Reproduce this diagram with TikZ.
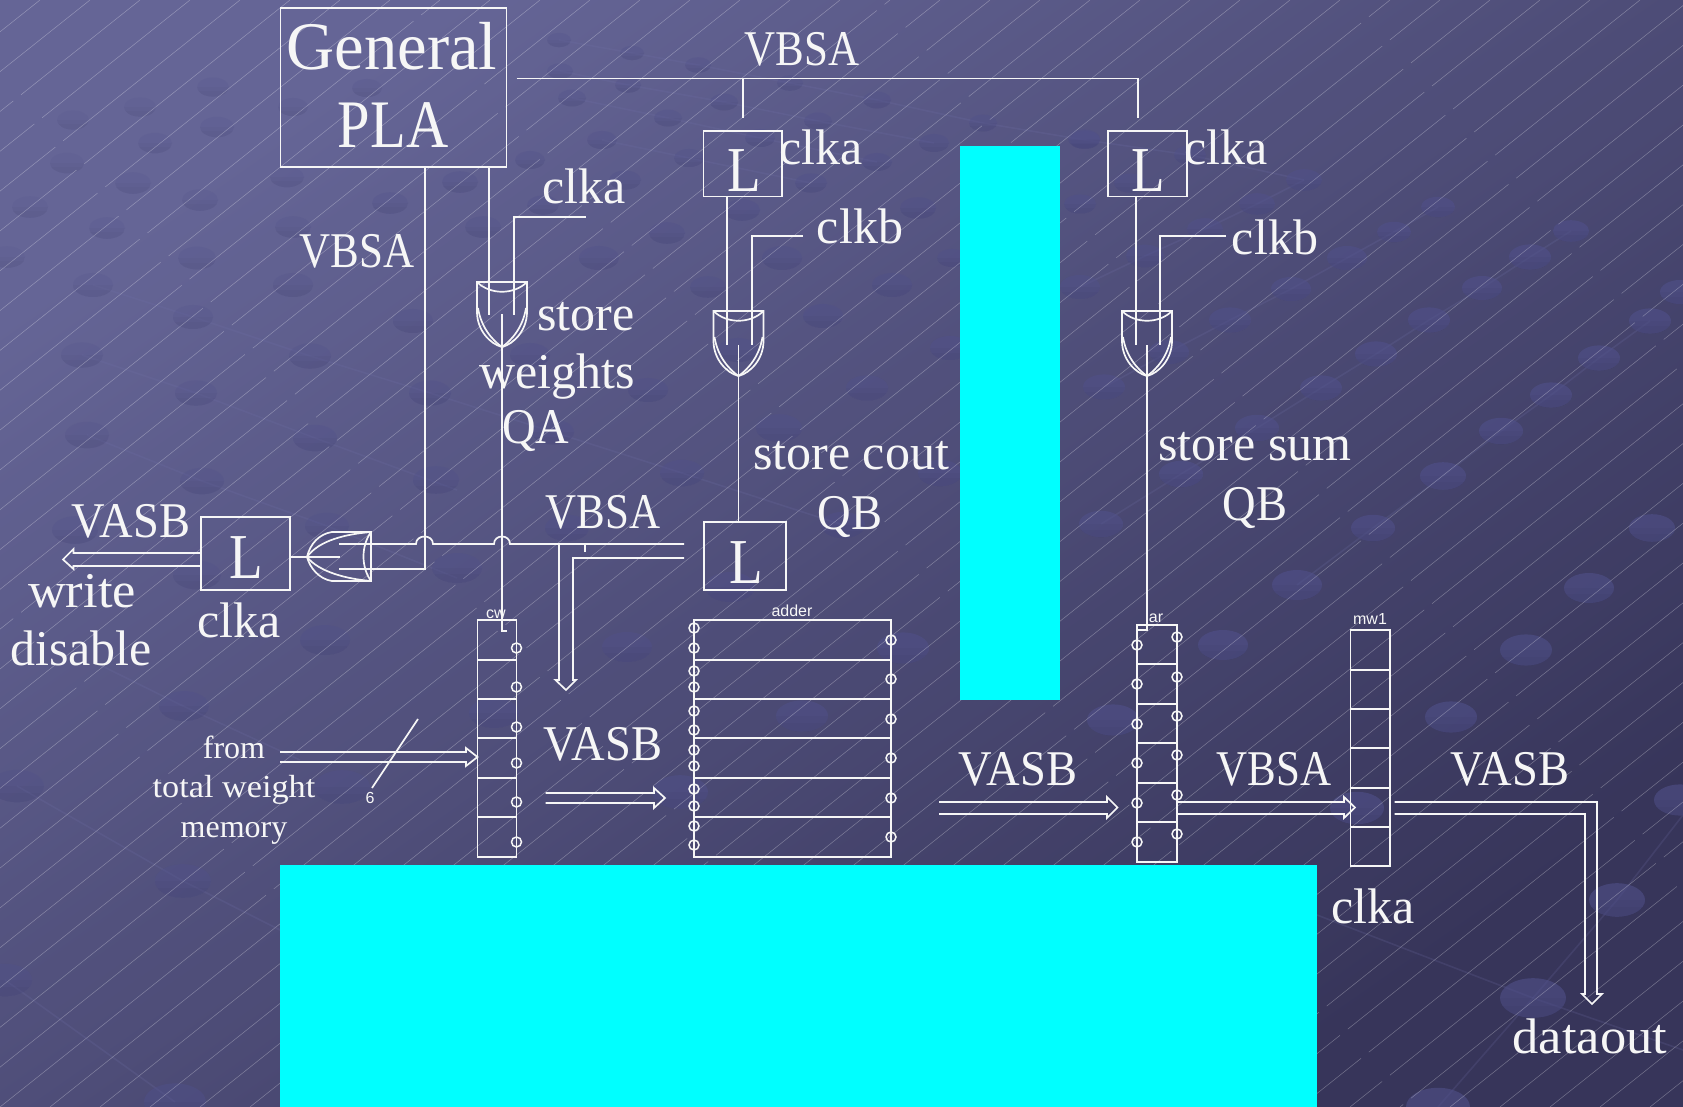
\documentclass[tikz,border=0pt]{standalone}
\usepackage{fontspec}
\usepackage{graphicx}
\setmainfont{Liberation Serif}
\newfontfamily\sansf{Liberation Sans}
\definecolor{bgA}{HTML}{656596}
\definecolor{bgB}{HTML}{37355A}
\definecolor{ink}{HTML}{F6F6F6}
\definecolor{dotc}{HTML}{50508A}
\definecolor{netc}{HTML}{7070A8}
\definecolor{cyanfill}{RGB}{0,255,255}
\newcommand{\Kp}[1]{\scalebox{.86}[1]{#1}}
\newcommand{\Kq}[1]{\scalebox{.93}[1]{#1}}
\newcommand{\Kw}[1]{\scalebox{1.05}[1]{#1}}
\newcommand{\BoxN}[5]{\pgfmathsetmacro\bw{(#4-#2)*.5}\pgfmathsetmacro\bh{(#5-#3)*.5}%
 \node[boxn,minimum width=\bw pt,minimum height=\bh pt] (#1) at ({(#2+#4)/2},{(#3+#5)/2}) {};}
\tikzset{
 wire/.style={draw=ink,line width=.85pt,line join=miter},
 boxn/.style={draw=ink,line width=.85pt,inner sep=0pt,outer sep=0pt},
 cyanbox/.style={fill=cyanfill,draw=none,inner sep=0pt,outer sep=0pt},
 tx/.style={text=ink,anchor=base,inner sep=0pt,font=\fontsize{25}{25}\selectfont},
 big/.style={text=ink,anchor=base,inner sep=0pt,font=\fontsize{34}{34}\selectfont},
 latch/.style={text=ink,anchor=base,inner sep=0pt,font=\fontsize{32}{32}\selectfont},
 small/.style={text=ink,anchor=base,inner sep=0pt,font=\fontsize{16}{16}\selectfont},
 tiny/.style={text=ink!85,anchor=base,inner sep=0pt,font=\sansf\fontsize{8}{8}\selectfont},
 pin/.style={draw=ink,line width=.75pt},
 net/.style={draw=netc,opacity=.2,line width=.8pt},
 andgate/.pic={
  \draw[wire] (-25,0) -- (25,0) -- (25,30) .. controls (25,48) and (12,62) .. (0,65)
     .. controls (-12,62) and (-25,48) .. (-25,30) -- cycle;
  \draw[wire] (-25,0) .. controls (-12,13) and (12,13) .. (25,0);
  \draw[wire] (-24,26) .. controls (-21,45) and (-10,58) .. (0,65) .. controls (10,58) and (21,45) .. (24,26);
 },
 orgate/.pic={
  \draw[wire] (64,0) -- (64,49) -- (25,49) .. controls (12,47) and (3,36) .. (0,25)
     .. controls (3,12) and (12,2) .. (25,0) -- cycle;
  \draw[wire] (0,25) .. controls (12,8) and (40,2) .. (64,0);
  \draw[wire] (0,25) .. controls (12,40) and (40,47) .. (64,49);
  \draw[wire] (64,0) .. controls (54,14) and (54,35) .. (64,49);
 },
}
\begin{document}
\begin{tikzpicture}[x=.5pt,y=-.5pt]
\useasboundingbox (0,0) rectangle (1683,1107);
\shade[top color=bgA,bottom color=bgB,shading angle=35] (0,0) rectangle (1683,1107);
\begin{scope}
\clip (0,0) rectangle (1683,1107);
% faint net
\draw[net] (1438,1107) -- (1533,998) -- (1617,900) -- (1683,815);
\draw[net] (1297,585) -- (1373,528) -- (1443,476) -- (1501,431) -- (1551,395) -- (1599,358) -- (1650,321);
\draw[net] (1101,524) -- (1181,474) -- (1257,428) -- (1321,388) -- (1376,354) -- (1429,320) -- (1482,288) -- (1530,257) -- (1571,231);
\draw[net] (1104,387) -- (1169,352) -- (1230,320) -- (1291,289) -- (1347,258) -- (1394,232) -- (1438,207);
\draw[net] (1080,287) -- (1145,256) -- (1205,229) -- (1257,204) -- (1304,180);
\draw[net] (559,40) -- (632,53) -- (698,65) -- (790,83) -- (877,100) -- (983,123) -- (1085,140) -- (1190,155) -- (1304,180);
\draw[net] (560,71) -- (628,85) -- (724,102) -- (818,121) -- (934,143);
\draw[net] (572,98) -- (668,118) -- (760,138) -- (877,162);
\draw[net] (602,140) -- (689,158) -- (811,183);
\draw[net] (82,355) -- (196,393) -- (315,438) -- (457,490);
\draw[net] (87,435) -- (202,481) -- (327,526) -- (457,578);
\draw[net] (93,285) -- (193,317) -- (310,356) -- (430,393) -- (553,432) -- (682,473) -- (843,525);
\draw[net] (100,665) -- (183,706) -- (300,760);
\draw[net] (17,786) -- (183,881) -- (280,930);
\draw[net] (5,980) -- (175,1102);
\draw[net] (1317,915) -- (1533,998) -- (1683,1050);
% dots
\foreach \x/\y/\r in {
 1084/139/16,1080/204/16,1304/180/18,1257/204/18,1205/229/18,1438/207/17,1394/232/17,1571/231/18,
 1145/256/19,1347/258/20,1530/257/21,1080/287/20,1291/289/20,1482/288/20,1680/292/20,1230/320/21,
 1429/320/21,1650/321/21,1169/352/20,1376/354/21,1599/358/21,1104/387/21,1321/388/21,1551/395/21,
 1257/428/22,1501/431/22,1181/474/22,1443/476/23,1101/524/22,1373/528/22,1652/528/23,1297/585/25,
 1589/588/25,1617/900/28,1533/998/33,1438/1107/32,
 93/285/20,293/285/20,193/317/20,413/321/20,82/355/21,310/356/21,196/393/21,430/393/21,87/435/22,
 315/438/22,202/481/22,436/480/23,75/530/23,327/526/22,457/568/25,197/575/24,567/528/22,325/640/25,
 627/647/25,184/706/25,494/713/25,17/786/27,342/787/28,680/792/28,183/881/28,903/648/26,802/716/26,
 1223/645/25,1526/650/26,1451/717/26,1113/720/26,1357/808/27,1680/800/26,5/980/27,175/1102/31,
 543/205/16,667/233/18,599/258/20,742/210/18,918/208/18,782/258/20,708/287/18,892/285/20,952/258/15,
 823/316/20,738/350/20,530/355/20,950/348/20,648/390/20,867/388/21,553/432/21,779/428/23,682/473/22,
 940/473/22,843/525/22,730/587/25,
 559/40/12,632/53/12,698/65/13,560/71/13,628/85/13,790/83/13,572/98/14,724/102/14,877/100/14,668/118/14,
 818/121/14,983/123/14,602/140/15,760/138/15,934/143/15,1085/140/15,530/160/15,689/158/15,877/162/15,
 625/180/16,811/183/16,1190/155/16,1130/183/16,
 213/87/16,140/107/16,73/120/16,217/127/17,155/143/17,67/163/17,133/183/18,30/207/18,200/200/18,107/228/18,
 7/257/18,197/258/19,293/107/15,367/88/15,460/182/18,287/177/17,390/203/18,483/227/18,293/227/18}
 {\pgfmathsetmacro\op{min(.6,.05+.42*(\x+\y)/1300)}
  \fill[dotc,opacity=\op] (\x,\y) ellipse [x radius=\r, y radius=.6*\r];
  \begin{scope}
   \clip (\x,\y) ellipse [x radius=\r, y radius=.6*\r];
   \fill[black,opacity=.02] (\x-\r,\y) rectangle (\x+\r,\y+\r);
   \fill[black,opacity=.02] (\x-\r,\y+.25*\r) rectangle (\x+\r,\y+\r);
  \end{scope}}
% thin diagonal lines
\foreach \c in {-1400,-1350,...,1700}
 \draw[white,opacity=.3,line width=.26pt,dash pattern=on 170pt off 5pt,dash phase=\c*.37 pt] (\c,1107) -- (\c+1390,0);
\end{scope}
% cyan
\node[cyanbox,minimum width=50pt,minimum height=277pt] (capA) at (1010,423) {};
\node[cyanbox,minimum width=518.5pt,minimum height=121pt] (capB) at (798.5,986) {};
% boxes
\BoxN{pla}{280.5}{8}{506.5}{167}
\BoxN{la}{703.5}{131}{782}{196.5}
\BoxN{lb}{1108}{131}{1187}{196.5}
\BoxN{lc}{201}{517}{290}{590}
\BoxN{ld}{704}{522}{786}{590}
\BoxN{cw}{477.5}{620}{516.5}{857}
\BoxN{adder}{694}{620}{891}{857}
\BoxN{ar}{1137}{625}{1177}{862}
\BoxN{mw}{1350.5}{630}{1390}{866}
\foreach \y in {660,699,738,778,817} {\draw[wire] (cw.west |- 0,\y) -- (cw.east |- 0,\y); \draw[wire] (adder.west |- 0,\y) -- (adder.east |- 0,\y);}
\foreach \y in {664,704,743,783,822} \draw[wire] (ar.west |- 0,\y) -- (ar.east |- 0,\y);
\foreach \y in {670,709,748,788,827} \draw[wire] (mw.west |- 0,\y) -- (mw.east |- 0,\y);
\foreach \y in {648,687,727,763,802,842} \draw[pin] (cw.east |- 0,\y) circle [radius=5];
\foreach \y in {628,648,671,687,711,730,750,766,789,806,826,845} \draw[pin] (adder.west |- 0,\y) circle [radius=5];
\foreach \y in {640,679,719,758,798,837} \draw[pin] (adder.east |- 0,\y) circle [radius=5];
\foreach \y in {645,684,724,763,803,842} \draw[pin] (ar.west |- 0,\y) circle [radius=5];
\foreach \y in {637,677,716,755,795,834} \draw[pin] (ar.east |- 0,\y) circle [radius=5];
% gates
\pic at (502,282) {andgate};
\pic at (738.5,311) {andgate};
\pic at (1147,311) {andgate};
\pic at (307,532) {orgate};
\coordinate (gaO) at (502,314);
\coordinate (gbO) at (738.5,345);
\coordinate (gcO) at (1147,345);
\coordinate (gorT) at (339,544);
\coordinate (gorB) at (339,569);
\coordinate (gorM) at (340,557);
% connectors
\coordinate (busS) at (516.5,78.5);
\coordinate (busE) at (1138,78.5);
\draw[wire] (busS) -- (busE) -- (1138,118);
\draw[wire] (743,78.5) -- (743,118);
\draw[wire] (pla.south -| 425,0) -- (425,569) -- (gorB);
\draw[wire] (pla.south -| 489,0) -- (489,315);
\draw[wire] (586,217) -- (514,217) -- (514,315);
\draw[wire] (gaO) -- (502,631) -- (507,631);
\draw[wire] (la.south -| 727,0) -- (727,345);
\draw[wire] (803,236) -- (752,236) -- (752,345);
\draw[wire] (gbO) -- (ld.north -| 738.5,0);
\draw[wire] (lb.south -| 1136,0) -- (1136,345);
\draw[wire] (1226,236) -- (1160,236) -- (1160,345);
\draw[wire] (gcO) -- (1147,630) -- (ar.west |- 0,630);
\draw[wire] (gorT) -- (416,544) .. controls (416,534) and (433,534) .. (433,544) -- (494,544)
   .. controls (494,534) and (510,534) .. (510,544) -- (684,544);
\draw[wire] (lc.east |- gorM) -- (gorM);
\draw[wire] (585,544) -- (585,552);
% fat arrows
\draw[wire] (684,558) -- (573,558) -- (573,680) -- (576,680) -- (566,690) -- (555.5,680) -- (559,680) -- (559,545);
\draw[wire] (lc.west |- 0,553) -- (73.5,553) -- (73.5,549) -- (63,559.5) -- (73.5,569) -- (73.5,566) -- (lc.west |- 0,566);
\draw[wire] (280,752) -- (466,752) -- (466,748) -- (cw.west |- 0,757) -- (466,766) -- (466,762) -- (280,762);
\draw[wire] (545.5,793) -- (654,793) -- (654,788) -- (665,798) -- (654,808) -- (654,803) -- (545.5,803);
\draw[wire] (939,802) -- (1107,802) -- (1107,797) -- (1117.5,807.5) -- (1107,818) -- (1107,814) -- (939,814);
\draw[wire] (ar.east |- 0,802) -- (1344,802) -- (1344,797) -- (1355,807.5) -- (1344,818) -- (1344,814) -- (ar.east |- 0,814);
\draw[wire] (1394.5,802) -- (1597,802) -- (1597,994) -- (1602,994) -- (1592,1004) -- (1582,994) -- (1585,994) -- (1585,814) -- (1394.5,814);
\draw[wire] (418,719) -- (372,788);
% text
\node[big] (tgen) at (392,70) {\scalebox{.98}[1]{General}};
\node[big] (tpla) at (393,148) {\Kp{PLA}};
\node[latch] (tla) at (744,192) {\Kp{L}};
\node[latch] (tlb) at (1148,192) {\Kp{L}};
\node[latch] (tlc) at (246,578) {\Kp{L}};
\node[latch] (tld) at (746,583) {\Kp{L}};
\node[tx] (t1) at (802,66) {\Kp{VBSA}};
\node[tx] (t2) at (821,165) {clka};
\node[tx] (t3) at (1226,165) {clka};
\node[tx] (t4) at (584,204) {clka};
\node[tx] (t5) at (860,244) {clkb};
\node[tx] (t6) at (1275,255) {clkb};
\node[tx] (t7) at (357,268) {\Kp{VBSA}};
\node[tx] (t8) at (586,331) {store};
\node[tx] (t9) at (557,389) {weights};
\node[tx] (t10) at (536,444) {\Kq{QA}};
\node[tx] (t11) at (851,470) {store cout};
\node[tx] (t12) at (850,530) {\Kq{QB}};
\node[tx] (t13) at (1255,460) {store sum};
\node[tx] (t14) at (1255,520) {\Kq{QB}};
\node[tx] (t15) at (603,529) {\Kp{VBSA}};
\node[tx] (t16) at (131,538) {\Kq{VASB}};
\node[tx] (t17) at (82,607) {\Kw{write}};
\node[tx] (t18) at (81,665) {disable};
\node[tx] (t19) at (239,637) {clka};
\node[small] (t20) at (234,758) {from};
\node[small] (t21) at (234,797) {\scalebox{1.07}[1]{total weight}};
\node[small] (t22) at (234,837) {memory};
\node[tx] (t23) at (603,760) {\Kq{VASB}};
\node[tx] (t24) at (1018,785) {\Kq{VASB}};
\node[tx] (t25) at (1274,785) {\Kp{VBSA}};
\node[tx] (t26) at (1510,785) {\Kq{VASB}};
\node[tx] (t27) at (1373,923) {clka};
\node[tx] (t28) at (1590,1053) {\Kw{dataout}};
\node[tiny] (t29) at (496,618) {cw};
\node[tiny] (t30) at (792,616) {adder};
\node[tiny] (t31) at (1156,622) {ar};
\node[tiny] (t32) at (1370,624) {mw1};
\node[tiny] (t33) at (370,803) {6};
\end{tikzpicture}
\end{document}
